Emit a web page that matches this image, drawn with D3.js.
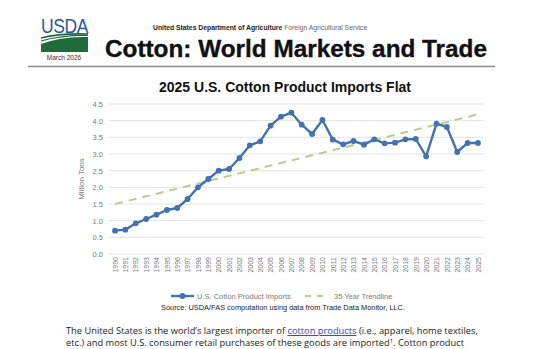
<!DOCTYPE html>
<html>
<head>
<meta charset="utf-8">
<script src="https://cdn.jsdelivr.net/npm/d3@7"></script>
<style>
  html, body { margin: 0; padding: 0; background: #fff; }
  svg { display: block; }
</style>
</head>
<body>
<svg id="page" width="560" height="349"></svg>
<script>
// U.S. cotton product imports, million tons
const years = d3.range(1990, 2026).map(String);
const imports = [0.70, 0.73, 0.92, 1.05, 1.18, 1.32, 1.38, 1.65, 2.00, 2.25,
                 2.50, 2.55, 2.88, 3.26, 3.38, 3.85, 4.12, 4.24, 3.88, 3.60,
                 4.02, 3.43, 3.29, 3.39, 3.28, 3.44, 3.32, 3.34, 3.44, 3.45,
                 2.93, 3.91, 3.81, 3.06, 3.33, 3.33];
// 35-year linear trend endpoints (1990, 2025)
const trendYears = ["1990", "2025"];
const trendValues = [1.50, 4.19];
const yTicks = [0, 0.5, 1, 1.5, 2, 2.5, 3, 3.5, 4, 4.5];

const svg = d3.select("#page");
const font = "'Liberation Sans', Arial, sans-serif";

// ---- header ----
const logo = svg.append("g");
logo.append("text").attr("x", 41).attr("y", 33)
  .attr("font-family", "'Liberation Sans Narrow', 'Liberation Sans', Arial, sans-serif")
  .attr("font-size", 20).attr("fill", "#2b5a9b").attr("letter-spacing", -0.5)
  .attr("textLength", 47).attr("lengthAdjust", "spacingAndGlyphs")
  .text("USDA");
logo.append("path")
  .attr("d", "M41,44 Q62,36 88,37 L88,52 L41,52 Z")
  .attr("fill", "#1f6b3b");
logo.append("path")
  .attr("d", "M41,38 Q60,33 88,34")
  .attr("fill", "none").attr("stroke", "#1f6b3b").attr("stroke-width", 1.6);
logo.append("path")
  .attr("d", "M41,41 Q62,35 88,35.5")
  .attr("fill", "none").attr("stroke", "#1f6b3b").attr("stroke-width", 1.2);
logo.append("text").attr("x", 64).attr("y", 60).attr("text-anchor", "middle")
  .attr("font-family", font).attr("font-size", 6.5).attr("fill", "#333")
  .text("March 2026");

const dept = svg.append("text").attr("x", 153).attr("y", 30)
  .attr("font-family", font).attr("font-size", 6.8);
dept.append("tspan").attr("font-weight", "bold").attr("fill", "#222")
  .text("United States Department of Agriculture ");
dept.append("tspan").attr("fill", "#666").text("Foreign Agricultural Service");

svg.append("text").attr("x", 105).attr("y", 57)
  .attr("font-family", font).attr("font-weight", "bold").attr("font-size", 23)
  .attr("fill", "#111").attr("stroke", "#111").attr("stroke-width", 0.35)
  .attr("textLength", 382).attr("lengthAdjust", "spacingAndGlyphs")
  .text("Cotton: World Markets and Trade");

svg.append("line").attr("x1", 28).attr("x2", 495).attr("y1", 66.5).attr("y2", 66.5)
  .attr("stroke", "#8a8a8a").attr("stroke-width", 1.5);

// ---- chart ----
svg.append("text").attr("x", 285).attr("y", 92).attr("text-anchor", "middle")
  .attr("font-family", font).attr("font-weight", "bold").attr("font-size", 14)
  .attr("fill", "#111").text("2025 U.S. Cotton Product Imports Flat");

const plot = { left: 109, right: 484, top: 104, bottom: 254 };

const x = d3.scalePoint().domain(years).range([115, 478]);
const y = d3.scaleLinear().domain([0, 4.5]).range([plot.bottom, plot.top]);

// horizontal gridlines
svg.append("g").selectAll("line").data(yTicks).join("line")
  .attr("x1", plot.left).attr("x2", plot.right)
  .attr("y1", d => y(d)).attr("y2", d => y(d))
  .attr("stroke", "#e3e3e3").attr("stroke-width", 1);

// y axis labels
const yAxis = svg.append("g").attr("transform", `translate(${plot.left - 6},0)`)
  .call(d3.axisLeft(y).tickValues(yTicks).tickFormat(d3.format(".1f")).tickSize(0).tickPadding(0));
yAxis.select(".domain").remove();
yAxis.selectAll("text").attr("font-family", font).attr("font-size", 7.5).attr("fill", "#7a7a7a");

svg.append("text")
  .attr("transform", `translate(84,${(plot.top + plot.bottom) / 2}) rotate(-90)`)
  .attr("text-anchor", "middle").attr("font-family", font).attr("font-size", 8)
  .attr("fill", "#7a7a7a").text("Million Tons");

// x axis labels, rotated
const xAxis = svg.append("g").attr("transform", `translate(0,${plot.bottom + 3})`)
  .call(d3.axisBottom(x).tickSize(0).tickPadding(0));
xAxis.select(".domain").remove();
xAxis.selectAll("text")
  .attr("font-family", font).attr("font-size", 7).attr("fill", "#7a7a7a")
  .attr("text-anchor", "end").attr("dy", "0.32em").attr("dx", 0).attr("y", 0)
  .attr("transform", "rotate(-90)");

// trendline
svg.append("path")
  .datum(trendYears.map((t, i) => [t, trendValues[i]]))
  .attr("d", d3.line().x(d => x(d[0])).y(d => y(d[1])))
  .attr("fill", "none").attr("stroke", "#b5cf8c").attr("stroke-width", 2)
  .attr("stroke-dasharray", "8,6");

// imports series
const blue = "#4472ad";
const series = years.map((yr, i) => [yr, imports[i]]);
svg.append("path").datum(series)
  .attr("d", d3.line().x(d => x(d[0])).y(d => y(d[1])))
  .attr("fill", "none").attr("stroke", blue).attr("stroke-width", 2.4)
  .attr("stroke-linejoin", "round");
svg.append("g").selectAll("circle").data(series).join("circle")
  .attr("cx", d => x(d[0])).attr("cy", d => y(d[1])).attr("r", 2.9)
  .attr("fill", blue);

// legend
const lg = svg.append("g").attr("font-family", font).attr("font-size", 7.5).attr("fill", "#7a7a7a");
lg.append("line").attr("x1", 171).attr("x2", 194).attr("y1", 296).attr("y2", 296)
  .attr("stroke", blue).attr("stroke-width", 2.4);
lg.append("circle").attr("cx", 182.5).attr("cy", 296).attr("r", 2.9).attr("fill", blue);
lg.append("text").attr("x", 197).attr("y", 298.5).text("U.S. Cotton Product Imports");
lg.append("line").attr("x1", 305).attr("x2", 327).attr("y1", 296).attr("y2", 296)
  .attr("stroke", "#b5cf8c").attr("stroke-width", 2).attr("stroke-dasharray", "6,6");
lg.append("text").attr("x", 334).attr("y", 298.5).text("35 Year Trendline");

svg.append("text").attr("x", 283).attr("y", 310).attr("text-anchor", "middle")
  .attr("font-family", font).attr("font-size", 7.4).attr("fill", "#222")
  .text("Source: USDA/FAS computation using data from Trade Data Monitor, LLC.");

// ---- body text ----
const body = svg.append("g").attr("font-family", "'Open Sans', 'Liberation Sans', sans-serif")
  .attr("font-size", 9.3).attr("fill", "#222");
const l1 = body.append("text").attr("x", 66).attr("y", 334);
l1.append("tspan").text("The United States is the world\u2019s largest importer of ");
l1.append("tspan").attr("fill", "#2a3cd8").attr("text-decoration", "underline").text("cotton products");
l1.append("tspan").text(" (i.e., apparel, home textiles,");
const l2 = body.append("text").attr("x", 66).attr("y", 346);
l2.append("tspan").text("etc.) and most U.S. consumer retail purchases of these goods are imported");
l2.append("tspan").attr("font-size", 6).attr("dy", -3.5).text("1");
l2.append("tspan").attr("dy", 3.5).text(". Cotton product");
</script>
</body>
</html>
